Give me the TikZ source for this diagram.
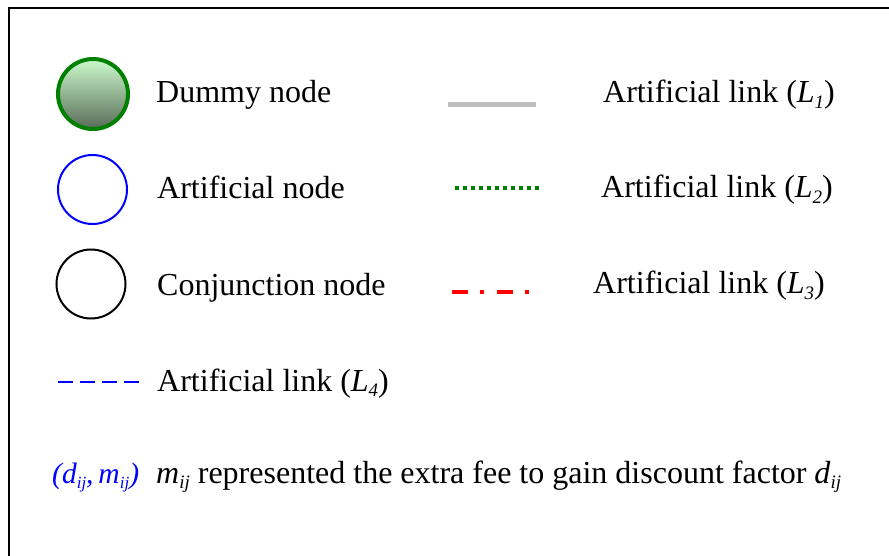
\documentclass[tikz,border=0pt]{standalone}
\usepackage{fontspec}
\setmainfont{Liberation Serif}
\definecolor{darkgreen}{HTML}{008000}
\definecolor{lightgreen}{HTML}{CCFACC}
\definecolor{shadegreen}{HTML}{586C58}
\definecolor{linkgray}{HTML}{BFBFBF}
% small italic subscript, lowered below the baseline
\newcommand{\sub}[1]{\raisebox{-5.5pt}{\fontsize{19}{19}\selectfont\textit{#1}}}
\newcommand{\pairsub}[1]{\raisebox{-5pt}{\fontsize{17}{17}\selectfont\textit{#1}}}
\tikzset{
  legendtext/.style={anchor=base west, inner sep=0pt, font=\fontsize{32}{38}\selectfont},
  pairtext/.style={anchor=base west, inner sep=0pt, font=\fontsize{29.5}{34}\selectfont, text=blue},
  dummynode/.style={circle, minimum size=70pt, inner sep=0pt, line width=4pt,
    draw=darkgreen, top color=lightgreen, bottom color=shadegreen},
  artnode/.style={circle, minimum size=69pt, inner sep=0pt, line width=2pt, draw=blue},
  conjnode/.style={circle, minimum size=69pt, inner sep=0pt, line width=2pt, draw=black},
  linkone/.style={line width=5.5pt, draw=linkgray},
  linktwo/.style={line width=4pt, draw=darkgreen, dash pattern=on 4pt off 4pt},
  linkthree/.style={line width=4pt, draw=red, dash pattern=on 16pt off 12pt on 4pt off 13pt},
  linkfour/.style={line width=2.5pt, draw=blue, dash pattern=on 15pt off 7pt},
}
\begin{document}
\begin{tikzpicture}[x=1pt, y=-1pt]
\useasboundingbox (0,0) rectangle (889,556);
% frame
\draw[line width=2pt] (9,556) -- (9,8.5) -- (889,8.5);

% node legend
\node[dummynode] (dummy) at (93,94) {};
\node[legendtext] (dummytxt) at (156,103) {Dummy node};
\node[artnode] (art) at (92.5,189.5) {};
\node[legendtext] (arttxt) at (157,199) {Artificial node};
\node[conjnode] (conj) at (91,284) {};
\node[legendtext] (conjtxt) at (157,295) {Conjunction node};

% link legend
\coordinate (l1a) at (448,104.5);
\coordinate (l1b) at (536,104.5);
\draw[linkone] (l1a) -- (l1b);
\node[legendtext] (l1txt) at (603,103) {Artificial link (\textit{L}\sub{1})};

\coordinate (l2a) at (455,188);
\coordinate (l2b) at (539,188);
\draw[linktwo] (l2a) -- (l2b);
\node[legendtext] (l2txt) at (601,198) {Artificial link (\textit{L}\sub{2})};

\coordinate (l3a) at (452,292);
\coordinate (l3b) at (529,292);
\draw[linkthree] (l3a) -- (l3b);
\node[legendtext] (l3txt) at (593,294) {Artificial link (\textit{L}\sub{3})};

\coordinate (l4a) at (58,382);
\coordinate (l4b) at (139,382);
\draw[linkfour] (l4a) -- (l4b);
\node[legendtext] (l4txt) at (157,391) {Artificial link (\textit{L}\sub{4})};

% label legend
\node[pairtext] (pair) at (52,483) {\textit{(d\pairsub{ij},\,m\pairsub{ij})}};
\node[legendtext] (pairtxt) at (156,483) {\textit{m}\sub{ij} represented the extra fee to gain discount factor \textit{d}\sub{ij}};
\end{tikzpicture}
\end{document}
